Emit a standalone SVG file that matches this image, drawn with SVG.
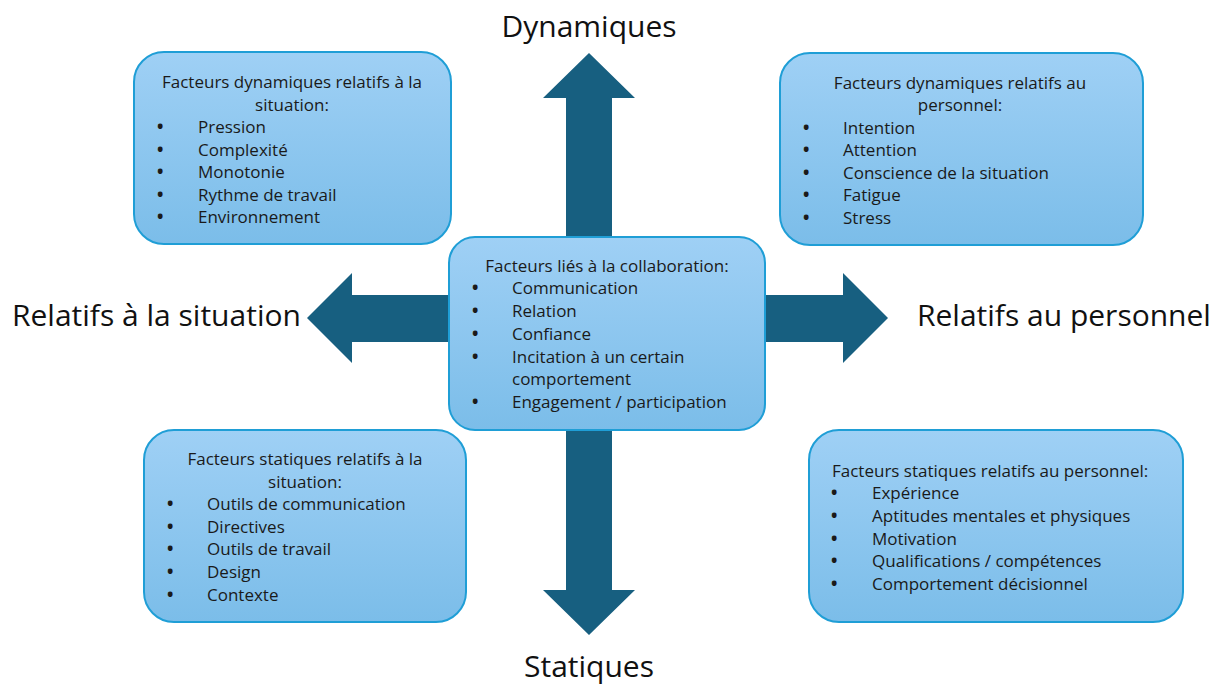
<svg xmlns="http://www.w3.org/2000/svg" width="1213" height="684" viewBox="0 0 1213 684">
<defs>
<linearGradient id="bg" x1="0" y1="0" x2="0" y2="1">
<stop offset="0" stop-color="#9fd0f5"/>
<stop offset="1" stop-color="#7bbde9"/>
</linearGradient>
<style>
.box{fill:url(#bg);stroke:#1f9ed6;stroke-width:2}
.t{font-family:"Open Sans","Liberation Sans",sans-serif;font-size:17px;fill:#1a1a1a}
.b{font-weight:bold}
.c{text-anchor:middle}
.lbl{font-family:"Open Sans","Liberation Sans",sans-serif;font-size:30px;fill:#111}
.arr{fill:#175f80}
</style>
</defs>
<rect width="1213" height="684" fill="#fff"/>
<g id="connectors">
<polygon class="arr" points="589,53 635,98 612,98 612,590 635,590 589,635 543,590 566,590 566,98 543,98"/>
<polygon class="arr" points="307,318 352,273 352,295 843,295 843,273 888,318 843,363 843,342 352,342 352,363"/>
</g>
<g id="label-dyn"><text class="lbl c" x="589" y="37">Dynamiques</text></g>
<g id="label-stat"><text class="lbl c" x="589" y="677">Statiques</text></g>
<g id="label-sit"><text class="lbl" x="12" y="326">Relatifs à la situation</text></g>
<g id="label-pers"><text class="lbl" x="917" y="326">Relatifs au personnel</text></g>
<g id="node-dyn-sit">
<rect class="box" x="134" y="52" width="317" height="192" rx="30"/>
<text class="t c" x="292" y="88">Facteurs dynamiques relatifs à la</text>
<text class="t c" x="292" y="111">situation:</text>
<text class="t b" x="157" y="133">•</text><text class="t" x="198" y="133">Pression</text>
<text class="t b" x="157" y="156">•</text><text class="t" x="198" y="156">Complexité</text>
<text class="t b" x="157" y="178">•</text><text class="t" x="198" y="178">Monotonie</text>
<text class="t b" x="157" y="201">•</text><text class="t" x="198" y="201">Rythme de travail</text>
<text class="t b" x="157" y="223">•</text><text class="t" x="198" y="223">Environnement</text>
</g>
<g id="node-dyn-pers">
<rect class="box" x="780" y="53" width="363" height="192" rx="30"/>
<text class="t c" x="960" y="89">Facteurs dynamiques relatifs au</text>
<text class="t c" x="960" y="111">personnel:</text>
<text class="t b" x="803" y="134">•</text><text class="t" x="843" y="134">Intention</text>
<text class="t b" x="803" y="156">•</text><text class="t" x="843" y="156">Attention</text>
<text class="t b" x="803" y="179">•</text><text class="t" x="843" y="179">Conscience de la situation</text>
<text class="t b" x="803" y="201">•</text><text class="t" x="843" y="201">Fatigue</text>
<text class="t b" x="803" y="224">•</text><text class="t" x="843" y="224">Stress</text>
</g>
<g id="node-collab">
<rect class="box" x="449" y="237" width="316" height="193" rx="26"/>
<text class="t c" x="607" y="272">Facteurs liés à la collaboration:</text>
<text class="t b" x="472" y="294">•</text><text class="t" x="512" y="294">Communication</text>
<text class="t b" x="472" y="317">•</text><text class="t" x="512" y="317">Relation</text>
<text class="t b" x="472" y="340">•</text><text class="t" x="512" y="340">Confiance</text>
<text class="t b" x="472" y="363">•</text><text class="t" x="512" y="363">Incitation à un certain</text>
<text class="t" x="512" y="385">comportement</text>
<text class="t b" x="472" y="408">•</text><text class="t" x="512" y="408">Engagement / participation</text>
</g>
<g id="node-stat-sit">
<rect class="box" x="144" y="430" width="322" height="192" rx="30"/>
<text class="t c" x="305" y="465">Facteurs statiques relatifs à la</text>
<text class="t c" x="305" y="488">situation:</text>
<text class="t b" x="167" y="510">•</text><text class="t" x="207" y="510">Outils de communication</text>
<text class="t b" x="167" y="533">•</text><text class="t" x="207" y="533">Directives</text>
<text class="t b" x="167" y="555">•</text><text class="t" x="207" y="555">Outils de travail</text>
<text class="t b" x="167" y="578">•</text><text class="t" x="207" y="578">Design</text>
<text class="t b" x="167" y="601">•</text><text class="t" x="207" y="601">Contexte</text>
</g>
<g id="node-stat-pers">
<rect class="box" x="809" y="430" width="374" height="192" rx="30"/>
<text class="t" x="832" y="477">Facteurs statiques relatifs au personnel:</text>
<text class="t b" x="831" y="499">•</text><text class="t" x="872" y="499">Expérience</text>
<text class="t b" x="831" y="522">•</text><text class="t" x="872" y="522">Aptitudes mentales et physiques</text>
<text class="t b" x="831" y="545">•</text><text class="t" x="872" y="545">Motivation</text>
<text class="t b" x="831" y="567">•</text><text class="t" x="872" y="567">Qualifications / compétences</text>
<text class="t b" x="831" y="590">•</text><text class="t" x="872" y="590">Comportement décisionnel</text>
</g>
</svg>
